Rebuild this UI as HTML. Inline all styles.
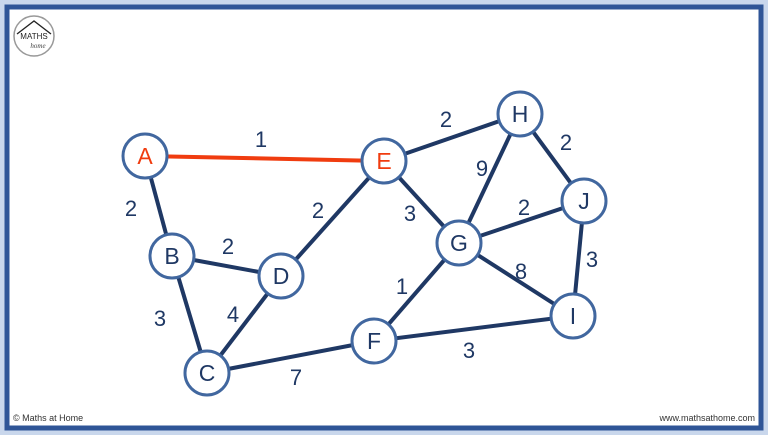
<!DOCTYPE html>
<html><head><meta charset="utf-8"><style>
html,body{margin:0;padding:0;background:#c9d7ec;}
svg{display:block;font-family:"Liberation Sans",sans-serif;}
</style></head><body>
<svg width="768" height="435" viewBox="0 0 768 435">
<rect x="0" y="0" width="768" height="435" fill="#c9d7ec"/>
<rect x="7" y="7" width="754" height="421" fill="#fff" stroke="#2f5597" stroke-width="5"/>
<circle cx="34" cy="36" r="20" fill="#fff" stroke="#999" stroke-width="1.5"/>
<polyline points="17,34 34,21 51,34" fill="none" stroke="#222" stroke-width="1.3"/>
<text x="34" y="39" font-size="8" text-anchor="middle" fill="#222">MATHS</text>
<text x="38" y="48" font-size="7" font-style="italic" font-family="Liberation Serif" text-anchor="middle" fill="#444">home</text>
<g stroke="#1f3864" stroke-width="4" fill="none">
<line x1="145" y1="156" x2="172" y2="256"/>
<line x1="172" y1="256" x2="281" y2="276"/>
<line x1="172" y1="256" x2="207" y2="373"/>
<line x1="281" y1="276" x2="207" y2="373"/>
<line x1="281" y1="276" x2="384" y2="161"/>
<line x1="384" y1="161" x2="520" y2="114"/>
<line x1="384" y1="161" x2="459" y2="243"/>
<line x1="520" y1="114" x2="459" y2="243"/>
<line x1="520" y1="114" x2="584" y2="201"/>
<line x1="459" y1="243" x2="584" y2="201"/>
<line x1="584" y1="201" x2="573" y2="316"/>
<line x1="459" y1="243" x2="573" y2="316"/>
<line x1="459" y1="243" x2="374" y2="341"/>
<line x1="374" y1="341" x2="573" y2="316"/>
<line x1="207" y1="373" x2="374" y2="341"/>
</g>
<line x1="145" y1="156" x2="384" y2="161" stroke="#f03c0f" stroke-width="4"/>
<g fill="#fff" stroke="#41679f" stroke-width="3">
<circle cx="145" cy="156" r="22"/><circle cx="384" cy="161" r="22"/>
<circle cx="520" cy="114" r="22"/><circle cx="172" cy="256" r="22"/>
<circle cx="281" cy="276" r="22"/><circle cx="459" cy="243" r="22"/>
<circle cx="584" cy="201" r="22"/><circle cx="374" cy="341" r="22"/>
<circle cx="573" cy="316" r="22"/><circle cx="207" cy="373" r="22"/>
</g>
<g font-size="23" text-anchor="middle" fill="#1f3864">
<text x="145" y="164" fill="#f03c0f">A</text><text x="384" y="169" fill="#f03c0f">E</text>
<text x="520" y="122">H</text><text x="172" y="264">B</text>
<text x="281" y="284">D</text><text x="459" y="251">G</text>
<text x="584" y="209">J</text><text x="374" y="349">F</text>
<text x="573" y="324">I</text><text x="207" y="381">C</text>
</g>
<g font-size="22" text-anchor="middle" fill="#1f3864">
<text x="261" y="147">1</text><text x="446" y="127">2</text>
<text x="566" y="150">2</text><text x="131" y="216">2</text>
<text x="482" y="176">9</text><text x="410" y="221">3</text>
<text x="318" y="218">2</text><text x="524" y="215">2</text>
<text x="592" y="267">3</text><text x="228" y="254">2</text>
<text x="521" y="279">8</text><text x="402" y="294">1</text>
<text x="160" y="326">3</text><text x="233" y="322">4</text>
<text x="469" y="358">3</text><text x="296" y="385">7</text>
</g>
<text x="13" y="421" font-size="9" fill="#333">© Maths at Home</text>
<text x="755" y="421" font-size="9" fill="#333" text-anchor="end">www.mathsathome.com</text>
</svg>
</body></html>
